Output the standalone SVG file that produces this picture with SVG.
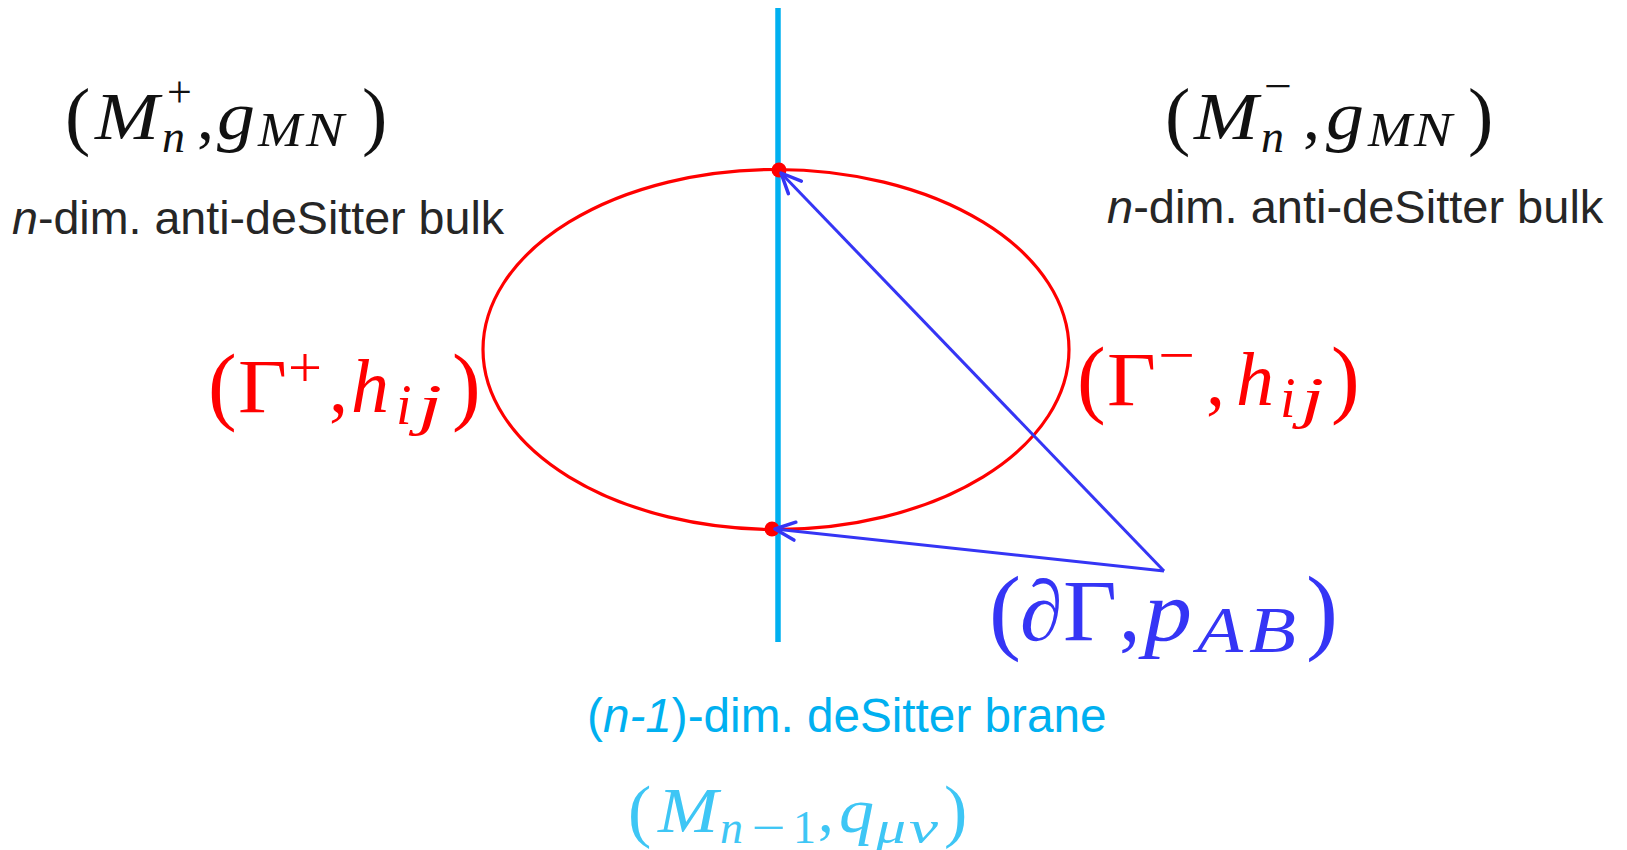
<svg xmlns="http://www.w3.org/2000/svg" width="1627" height="850" viewBox="0 0 1627 850">
<style>
.m{font-family:"Liberation Serif","Times New Roman",serif;}
.i{font-style:italic;}
.s{font-family:"Liberation Sans",Arial,sans-serif;}
.bulk{fill:#262626;}
.red{fill:#ff0000;}
.blue{fill:#3535f5;}
.cyan{fill:#00b0f0;}
.lcyan{fill:#3ec6f5;}
.arrow{stroke:#3535f5;stroke-width:3;fill:none;}
</style>
<defs>
<marker id="ah" markerUnits="userSpaceOnUse" markerWidth="30" markerHeight="30" viewBox="-25 -15 30 30" refX="0" refY="0" orient="auto">
<path d="M-20,-9 L0,0 L-20,9" fill="none" stroke="#3535f5" stroke-width="3.5" stroke-linecap="round" stroke-linejoin="round"/>
</marker>
</defs>
<rect width="1627" height="850" fill="#ffffff"/>
<g id="brane-line">
<line x1="778" y1="8" x2="778" y2="642" stroke="#00b0f0" stroke-width="5.5"/>
</g>
<g id="gamma-ellipse">
<ellipse cx="776" cy="349.5" rx="293" ry="180" fill="none" stroke="#ff0000" stroke-width="3.2"/>
<circle cx="779" cy="170" r="7.5" fill="#ff0000"/>
<circle cx="772" cy="529" r="7.5" fill="#ff0000"/>
</g>
<g id="connectors">
<line class="arrow" x1="1164" y1="571" x2="781" y2="173" marker-end="url(#ah)"/>
<line class="arrow" x1="1164" y1="571" x2="775" y2="529" marker-end="url(#ah)"/>
</g>
<g id="bulk-plus">
<text class="m" font-size="68" fill="#111">
<tspan x="65" y="141" font-size="76">(</tspan><tspan class="i" x="95" y="139" textLength="64" lengthAdjust="spacingAndGlyphs">M</tspan><tspan x="167" y="107" font-size="44">+</tspan><tspan class="i" x="162" y="152" font-size="46">n</tspan><tspan x="197" y="139">,</tspan><tspan class="i" x="217" y="139" textLength="38" lengthAdjust="spacingAndGlyphs">g</tspan><tspan class="i" x="258" y="146" font-size="48" textLength="44" lengthAdjust="spacingAndGlyphs">M</tspan><tspan class="i" x="306" y="146" font-size="48" textLength="38" lengthAdjust="spacingAndGlyphs">N</tspan><tspan x="362" y="141" font-size="76">)</tspan>
</text>
<text class="s bulk" x="12" y="234" font-size="46.6"><tspan class="i">n</tspan>-dim. anti-deSitter bulk</text>
</g>
<g id="bulk-minus">
<text class="m" font-size="68" fill="#111">
<tspan x="1165" y="141" font-size="76">(</tspan><tspan class="i" x="1194" y="139" textLength="64" lengthAdjust="spacingAndGlyphs">M</tspan><tspan x="1264" y="101" font-size="44" textLength="28" lengthAdjust="spacingAndGlyphs">−</tspan><tspan class="i" x="1261" y="152" font-size="46">n</tspan><tspan x="1303" y="139">,</tspan><tspan class="i" x="1326" y="139" textLength="38" lengthAdjust="spacingAndGlyphs">g</tspan><tspan class="i" x="1368" y="146" font-size="48" textLength="44" lengthAdjust="spacingAndGlyphs">M</tspan><tspan class="i" x="1414" y="146" font-size="48" textLength="38" lengthAdjust="spacingAndGlyphs">N</tspan><tspan x="1468" y="141" font-size="76">)</tspan>
</text>
<text class="s bulk" x="1107" y="223" font-size="47"><tspan class="i">n</tspan>-dim. anti-deSitter bulk</text>
</g>
<g id="gamma-plus">
<text class="m red" font-size="76">
<tspan x="208" y="414" font-size="86">(</tspan><tspan x="238" y="412" textLength="49" lengthAdjust="spacingAndGlyphs">Γ</tspan><tspan x="288" y="387" font-size="56" textLength="34" lengthAdjust="spacingAndGlyphs">+</tspan><tspan x="329" y="412">,</tspan><tspan class="i" x="351" y="412">h</tspan><tspan class="i" x="396" y="424" font-size="56">i</tspan><tspan class="i" x="418" y="424" font-size="56" textLength="24" lengthAdjust="spacingAndGlyphs">j</tspan><tspan x="452" y="414" font-size="86">)</tspan>
</text>
</g>
<g id="gamma-minus">
<text class="m red" font-size="76">
<tspan x="1077" y="407" font-size="86">(</tspan><tspan x="1107" y="405" textLength="49" lengthAdjust="spacingAndGlyphs">Γ</tspan><tspan x="1158" y="374" font-size="56" textLength="37" lengthAdjust="spacingAndGlyphs">−</tspan><tspan x="1206" y="405">,</tspan><tspan class="i" x="1236" y="405">h</tspan><tspan class="i" x="1280" y="417" font-size="56">i</tspan><tspan class="i" x="1301" y="417" font-size="56" textLength="23" lengthAdjust="spacingAndGlyphs">j</tspan><tspan x="1331" y="407" font-size="86">)</tspan>
</text>
</g>
<g id="boundary">
<text class="m blue" font-size="86">
<tspan x="989" y="642" font-size="96">(</tspan><tspan class="i" x="1020" y="640">∂</tspan><tspan x="1063" y="640" textLength="54" lengthAdjust="spacingAndGlyphs">Γ</tspan><tspan x="1119" y="640">,</tspan><tspan class="i" x="1144" y="640" textLength="48" lengthAdjust="spacingAndGlyphs">p</tspan><tspan class="i" x="1197" y="652" font-size="66" textLength="46" lengthAdjust="spacingAndGlyphs">A</tspan><tspan class="i" x="1249" y="652" font-size="66" textLength="47" lengthAdjust="spacingAndGlyphs">B</tspan><tspan x="1306" y="642" font-size="96">)</tspan>
</text>
</g>
<g id="brane">
<text class="s cyan" x="587" y="732" font-size="47.7">(<tspan class="i">n-1</tspan>)-dim. deSitter brane</text>
<text class="m lcyan" font-size="63">
<tspan x="628" y="834" font-size="70">(</tspan><tspan class="i" x="658" y="832" textLength="60" lengthAdjust="spacingAndGlyphs">M</tspan><tspan class="i" x="720" y="843" font-size="46">n</tspan><tspan x="752" y="843" font-size="46" textLength="34" lengthAdjust="spacingAndGlyphs">−</tspan><tspan x="793" y="843" font-size="46">1</tspan><tspan x="818" y="832">,</tspan><tspan class="i" x="839" y="832" textLength="35" lengthAdjust="spacingAndGlyphs">q</tspan><tspan class="i" x="876" y="843" font-size="46" textLength="30" lengthAdjust="spacingAndGlyphs">μ</tspan><tspan class="i" x="909" y="843" font-size="46" textLength="29" lengthAdjust="spacingAndGlyphs">ν</tspan><tspan x="944" y="834" font-size="70">)</tspan>
</text>
</g>
</svg>
